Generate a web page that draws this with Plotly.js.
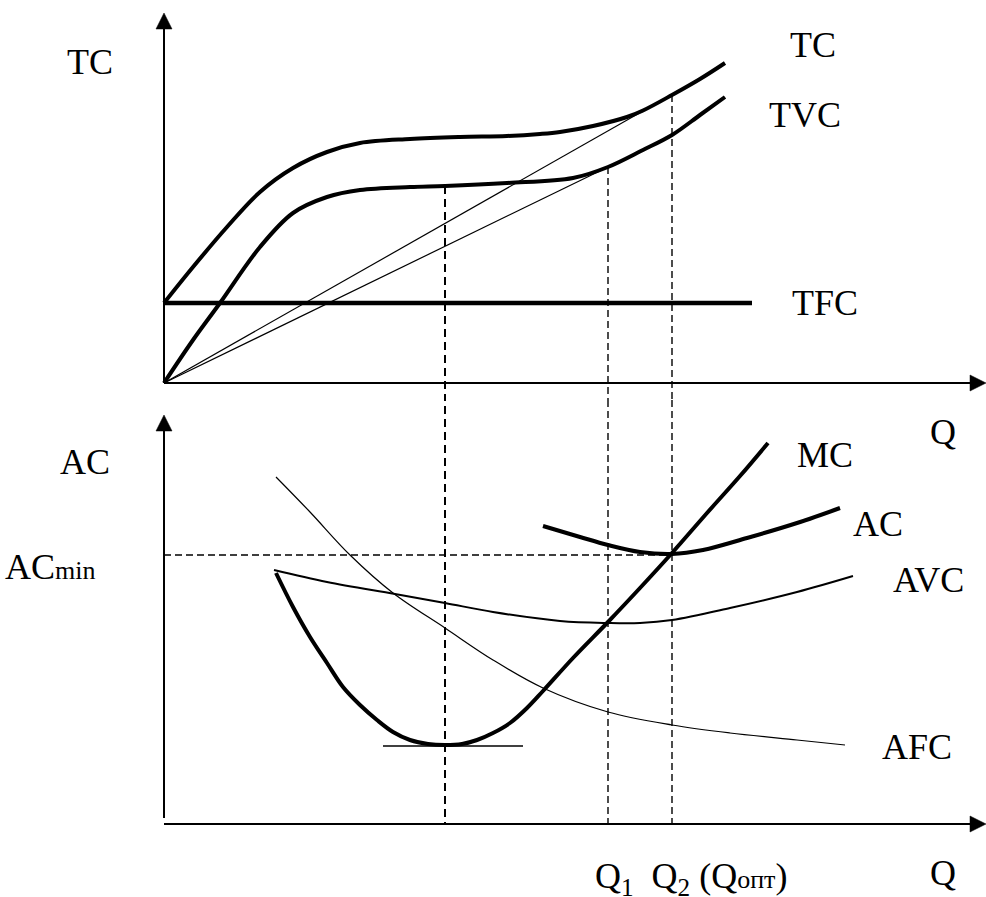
<!DOCTYPE html>
<html>
<head>
<meta charset="utf-8">
<script src="https://cdn.plot.ly/plotly-3.0.1.min.js"></script>
<style>html,body{margin:0;padding:0;background:#fff;} #chart{width:986px;height:897px;}</style>
</head>
<body>
<div id="chart"></div>
<script>
// ---------- data (Q = quantity, values = cost) ----------
// top panel: total costs
const tcQ  = [0, 2.9, 6.3, 9.6, 12.9, 16.3, 19.6, 24.6, 29.6, 34.3, 37.6, 39.6, 42.9, 46.3, 47.9, 50.8, 53.6, 56.1];
const tcV  = [8.0, 11.6, 15.6, 19.1, 21.5, 23.1, 24.0, 24.4, 24.6, 24.7, 24.9, 25.1, 25.7, 26.6, 27.25, 28.8, 30.4, 32.0];
const tvcQ = [0, 2.9, 5.6, 9.6, 12.9, 16.3, 19.6, 24.6, 28.1, 34.3, 40.9, 44.4, 47.9, 50.8, 53.6, 56.1];
const tvcV = [0, 4.3, 8.0, 13.6, 17.0, 18.6, 19.3, 19.6, 19.7, 20.0, 20.5, 21.6, 23.3, 24.8, 26.8, 28.6];
const tfcQ = [0, 58.8];
const tfcV = [8.0, 8.0];
const rayTcQ  = [0, 47.9];
const rayTcV  = [0, 27.2];
const rayTvcQ = [0, 44.4];
const rayTvcV = [0, 21.6];

// bottom panel: average and marginal costs
const mcQ  = [11.2, 12.9, 14.6, 16.3, 17.9, 19.6, 21.3, 22.9, 24.6, 26.4, 28.1, 29.8, 31.3, 32.9, 34.6, 36.3, 37.9, 40.9, 44.4, 47.6, 50.8, 54.3, 57.6, 60.4];
const mcV  = [25.1, 21.7, 18.7, 16.1, 13.7, 11.9, 10.4, 9.2, 8.4, 8.0, 7.9, 8.0, 8.4, 9.1, 10.1, 11.6, 13.3, 16.6, 20.2, 23.6, 27.1, 31.1, 34.8, 38.1];
const avcQ = [11.0, 16.3, 23.1, 28.1, 32.9, 39.6, 44.4, 47.6, 50.8, 56.6, 63.3, 68.9];
const avcV = [25.4, 24.2, 23.0, 22.1, 21.2, 20.3, 20.1, 20.1, 20.4, 21.6, 23.2, 24.8];
const afcQ = [11.2, 14.6, 18.6, 22.9, 28.1, 32.9, 37.9, 44.4, 50.8, 56.6, 63.3, 68.1];
const afcV = [34.7, 31.2, 26.9, 23.1, 19.6, 16.4, 13.6, 11.2, 9.9, 9.1, 8.4, 7.9];
const acQ  = [37.9, 41.6, 44.4, 47.6, 50.8, 53.9, 58.3, 63.3, 67.6];
const acV  = [29.8, 28.7, 27.9, 27.2, 27.0, 27.4, 28.6, 30.1, 31.6];
const mcMinQ = [21.9, 35.9];
const mcMinV = [7.8, 7.8];

// key quantities: MC minimum, Q1 (AVC min), Q2 (AC min)
const qMarks   = [28.1, 44.4, 50.8];
const qTopVals = [19.7, 21.6, 28.8];
const acMin    = 26.9;

// labels
const labelsTop    = ['TC', 'TC', 'TVC', 'TFC'];
const labelsBottom = ['Q', 'MC', 'AC', 'AVC', 'AFC', 'Q', 'AC'];
const acMinLabel   = 'AC<span style="font-size:26px">min</span>';
const qAxisLabel   = 'Q<sub>1</sub>  Q<sub>2</sub> (Q<span style="font-size:26px">опт</span>)';

// ---------- axis extents ----------
const xMax = 82.2, topYMax = 37.0, botYMax = 40.9, botYStart = 0.6;
const head = 1.6, halfHead = 0.8;   // arrowhead size in data units (1 unit = 10 px)

function ln(x, y, ya, width, dash, spline) {
  return {
    type: 'scatter', mode: 'lines', x: x, y: y, xaxis: 'x', yaxis: ya,
    line: {color: '#000', width: width, dash: dash || 'solid',
           shape: spline ? 'spline' : 'linear', smoothing: 1},
    hoverinfo: 'skip', showlegend: false
  };
}

const traces = [];
// top panel
traces.push(ln(tcQ, tcV, 'y', 4, null, true));
traces.push(ln(tvcQ, tvcV, 'y', 4, null, true));
traces.push(ln(tfcQ, tfcV, 'y', 4.5));
traces.push(ln(rayTcQ, rayTcV, 'y', 1.2));
traces.push(ln(rayTvcQ, rayTvcV, 'y', 1.2));
// dashed verticals (top part runs down into the gap, bottom part from the top of the lower panel)
const vDash = ['8px,5px', '7px,4px', '7px,4px'];
const vW = [2, 1.4, 1.4];
qMarks.forEach((q, i) => {
  traces.push(ln([q, q], [qTopVals[i], -10], 'y', vW[i], vDash[i]));
  traces.push(ln([q, q], [60, 0], 'y2', vW[i], vDash[i]));
});
// ACmin horizontal dashed
traces.push(ln([0, qMarks[2]], [acMin, acMin], 'y2', 1.4, '7px,4px'));
// bottom panel
traces.push(ln(afcQ, afcV, 'y2', 1.2, null, true));
traces.push(ln(avcQ, avcV, 'y2', 2, null, true));
traces.push(ln(mcQ, mcV, 'y2', 4, null, true));
traces.push(ln(acQ, acV, 'y2', 4, null, true));
traces.push(ln(mcMinQ, mcMinV, 'y2', 1.3));

// axes drawn as shapes with filled triangular arrowheads
function axisLine(ya, x0, y0, x1, y1) {
  return {type: 'line', xref: 'x', yref: ya, x0: x0, y0: y0, x1: x1, y1: y1,
          line: {color: '#000', width: 2}, layer: 'above'};
}
function headUp(ya, x, tip) {
  return {type: 'path', xref: 'x', yref: ya, layer: 'above',
          path: 'M' + (x - halfHead) + ',' + (tip - head) + ' L' + (x + halfHead) + ',' + (tip - head) + ' L' + x + ',' + tip + ' Z',
          fillcolor: '#000', line: {color: '#000', width: 0.5}};
}
function headRight(ya, tip, y) {
  return {type: 'path', xref: 'x', yref: ya, layer: 'above',
          path: 'M' + (tip - head) + ',' + (y - halfHead) + ' L' + (tip - head) + ',' + (y + halfHead) + ' L' + tip + ',' + y + ' Z',
          fillcolor: '#000', line: {color: '#000', width: 0.5}};
}
const shapes = [
  axisLine('y', 0, 0, 0, topYMax - head + 0.1),
  headUp('y', 0, topYMax),
  axisLine('y', 0, 0, xMax - head + 0.1, 0),
  headRight('y', xMax, 0),
  axisLine('y2', 0, botYStart, 0, botYMax - head + 0.1),
  headUp('y2', 0, botYMax),
  axisLine('y2', 0, 0, xMax - head + 0.1, 0),
  headRight('y2', xMax, 0)
];

const font = {family: 'Liberation Serif, Times New Roman, serif', size: 36, color: '#000'};
function label(ya, text, x, y, xanchor) {
  return {xref: 'x', yref: ya, x: x, y: y, text: text, showarrow: false,
          xanchor: xanchor || 'center', yanchor: 'middle', font: font};
}
const annotations = [
  label('y', labelsTop[0], -7.4, 32.1),
  label('y', labelsTop[1], 64.9, 33.8),
  label('y', labelsTop[2], 64.1, 26.8),
  label('y', labelsTop[3], 66.1, 8.0),
  label('y2', labelsBottom[0], 77.9, 39.2),
  label('y2', labelsBottom[1], 66.1, 36.9),
  label('y2', labelsBottom[2], 71.4, 30.0),
  label('y2', labelsBottom[3], 76.4, 24.4),
  label('y2', labelsBottom[4], 75.3, 7.7),
  label('y2', labelsBottom[5], 77.9, -4.9),
  label('y2', labelsBottom[6], -7.9, 36.2),
  label('y2', acMinLabel, -16.1, 25.7, 'left'),
  label('y2', qAxisLabel, 42.9, -5.4, 'left')
];

const split = 1 - 400 / 897;
const layout = {
  width: 986, height: 897,
  margin: {l: 0, r: 0, t: 0, b: 0, pad: 0},
  paper_bgcolor: '#fff', plot_bgcolor: '#fff',
  showlegend: false,
  xaxis: {range: [-16.4, 82.2], visible: false, domain: [0, 1], anchor: 'y2'},
  yaxis: {range: [-1.7, 38.3], visible: false, domain: [split, 1], anchor: 'x'},
  yaxis2: {range: [-7.3, 42.4], visible: false, domain: [0, split], anchor: 'x'},
  shapes: shapes,
  annotations: annotations
};

Plotly.newPlot('chart', traces, layout, {staticPlot: true, displayModeBar: false});
</script>
</body>
</html>
